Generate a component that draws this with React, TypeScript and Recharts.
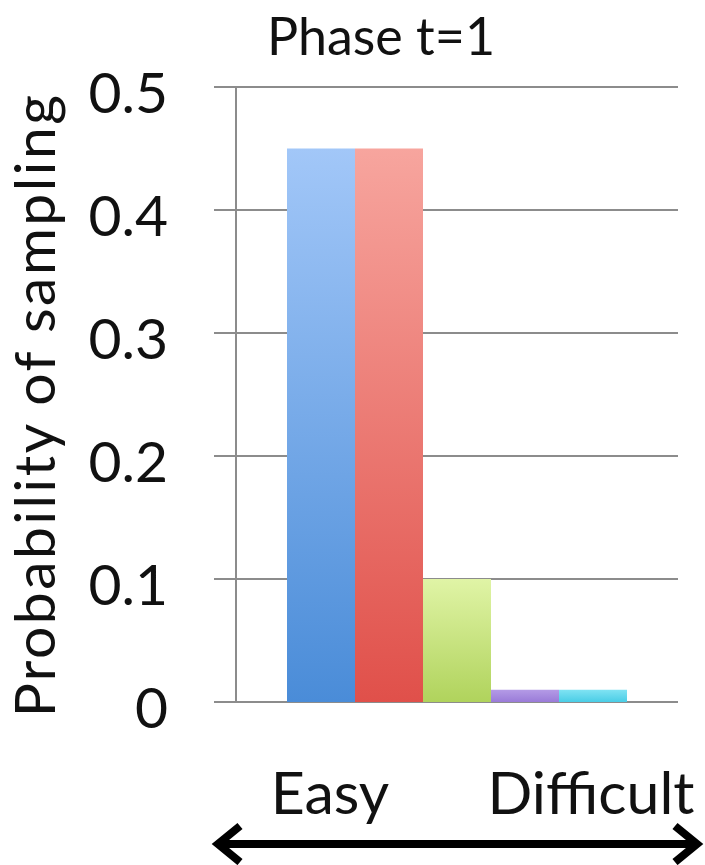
import React from 'react';
import { BarChart, Bar, XAxis, YAxis, CartesianGrid, Cell } from 'recharts';

const levels = ['L1', 'L2', 'L3', 'L4', 'L5'];
const probabilities = [0.45, 0.45, 0.1, 0.01, 0.01];
const yTicks = [0, 0.1, 0.2, 0.3, 0.4, 0.5];
const barTops = ['#a2c7f8', '#f7a59e', '#e0f4a6', '#b49be6', '#80e3f3'];
const barBottoms = ['#4a8cd8', '#e0504a', '#b0d35c', '#9a7bd8', '#4acde6'];

const data = levels.map((level, i) => ({ level, p: probabilities[i] }));

const FONT = 'Lato, "Open Sans", sans-serif';

// y tick labels sit a little below their grid lines
const YTick = (props: any) => {
  const { x, y, payload } = props;
  return (
    <text x={x} y={y + 26} textAnchor="end" fontSize={57} fontFamily={FONT} fill="#111">
      {payload.value}
    </text>
  );
};

export default function App() {
  return (
    <div style={{ position: 'absolute', left: 0, top: 0, width: 705, height: 865, background: '#fff' }}>
      <BarChart
        width={705}
        height={865}
        data={data}
        margin={{ top: 87, right: 27, bottom: 163, left: 0 }}
        barCategoryGap={0}
        barGap={0}
      >
        <defs>
          {levels.map((level, i) => (
            <linearGradient key={level} id={`grad-${level}`} x1="0" y1="0" x2="0" y2="1">
              <stop offset="0%" stopColor={barTops[i]} />
              <stop offset="100%" stopColor={barBottoms[i]} />
            </linearGradient>
          ))}
        </defs>
        <CartesianGrid vertical={false} stroke="#8c8c8c" strokeWidth={2} />
        <XAxis dataKey="level" hide padding={{ left: 51, right: 51 }} />
        <YAxis
          width={236}
          domain={[0, 0.5]}
          ticks={yTicks}
          interval={0}
          tickSize={22}
          tickMargin={46}
          axisLine={{ stroke: '#8c8c8c', strokeWidth: 2 }}
          tickLine={{ stroke: '#8c8c8c', strokeWidth: 2 }}
          tick={<YTick />}
        />
        <Bar dataKey="p" isAnimationActive={false}>
          {levels.map((level) => (
            <Cell key={level} fill={`url(#grad-${level})`} />
          ))}
        </Bar>
      </BarChart>
      <svg
        width={705}
        height={865}
        style={{ position: 'absolute', left: 0, top: 0, pointerEvents: 'none' }}
        fontFamily={FONT}
        fill="#111"
      >
        <text x={381} y={55} fontSize={52} textAnchor="middle">
          Phase t=1
        </text>
        <text
          x={55}
          y={405}
          fontSize={57}
          letterSpacing={2.5}
          textAnchor="middle"
          transform="rotate(-90 55 405)"
        >
          Probability of sampling
        </text>
        <text x={330} y={814} fontSize={59} textAnchor="middle">
          Easy
        </text>
        <text x={591} y={814} fontSize={59} textAnchor="middle">
          Difficult
        </text>
        <g stroke="#000" strokeWidth={8} fill="none">
          <line x1={222} y1={844} x2={693} y2={844} />
          <path d="M240,826 L218,844 L240,862" />
          <path d="M675,826 L697,844 L675,862" />
        </g>
      </svg>
    </div>
  );
}
